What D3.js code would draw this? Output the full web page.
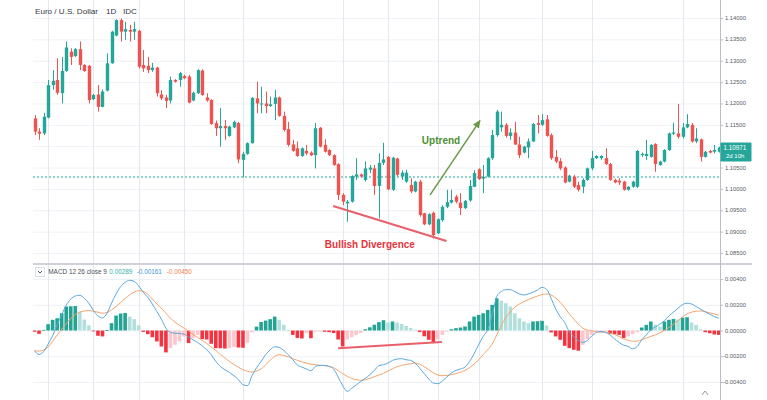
<!DOCTYPE html>
<html><head><meta charset="utf-8">
<script src="https://cdn.jsdelivr.net/npm/d3@7"></script>
<style>html,body{margin:0;padding:0;background:#fff;}svg{display:block;font-family:"Liberation Sans",Arial,sans-serif;}</style>
</head><body><svg id="c" width="767" height="400"></svg>
<script>
// ---------- DATA ----------
const opens=[1.1165,1.1134,1.1130,1.1167,1.1243,1.1255,1.1224,1.1276,1.1321,1.1311,
1.1327,1.1290,1.1288,1.1210,1.1221,1.1192,1.1230,1.1294,1.1359,1.1395,
1.1368,1.1372,1.1368,1.1370,1.1290,1.1288,1.1278,1.1284,1.1221,1.1214,
1.1207,1.1255,1.1255,1.1264,1.1263,1.1207,1.1224,1.1277,1.1214,1.1208,
1.1154,1.1142,1.1147,1.1124,1.1144,1.1154,1.1068,1.1082,1.1107,1.1212,
1.1198,1.1200,1.1194,1.1199,1.1214,1.1171,1.1140,1.1104,1.1095,1.1077,
1.1089,1.1085,1.1079,1.1143,1.1103,1.1091,1.1079,1.1058,1.0986,1.0966,
1.0970,1.1029,1.1034,1.1021,1.1045,1.1048,1.1007,1.1061,1.1075,1.0998,
1.1071,1.1029,1.1017,1.1009,1.0994,1.1017,1.0943,1.0917,1.0944,1.0896,
1.0927,1.0958,1.0968,1.0982,1.0968,1.0955,1.0973,1.1005,1.1046,1.1024,
1.1029,1.1072,1.1126,1.1144,1.1150,1.1124,1.1132,1.1104,1.1085,1.1097,
1.1111,1.1154,1.1150,1.1163,1.1126,1.1075,1.1065,1.1050,1.1017,1.1029,
1.1009,1.1005,1.1021,1.1048,1.1072,1.1072,1.1072,1.1058,1.1021,1.1019,
1.1017,1.0998,1.1005,1.1005,1.1079,1.1077,1.1075,1.1105,1.1056,1.1064,
1.1091,1.1129,1.1130,1.1122,1.1144,1.1150,1.1111,1.1116,1.1075,1.1089,
1.1087,1.1087];
const closes=[1.1134,1.1129,1.1169,1.1243,1.1253,1.1225,1.1276,1.1331,1.1309,1.1327,
1.1290,1.1276,1.1208,1.1220,1.1192,1.1228,1.1294,1.1368,1.1395,1.1368,
1.1374,1.1368,1.1374,1.1286,1.1282,1.1278,1.1284,1.1224,1.1212,1.1206,
1.1255,1.1251,1.1271,1.1259,1.1202,1.1225,1.1278,1.1220,1.1207,1.1152,
1.1142,1.1147,1.1142,1.1146,1.1157,1.1069,1.1082,1.1107,1.1213,1.1200,
1.1200,1.1194,1.1198,1.1214,1.1171,1.1138,1.1103,1.1089,1.1077,1.1095,
1.1083,1.1079,1.1142,1.1099,1.1087,1.1079,1.1056,1.0986,1.0970,1.0970,
1.1030,1.1034,1.1029,1.1048,1.1050,1.1007,1.1061,1.1069,1.0999,1.1073,
1.1033,1.1038,1.1038,1.0994,1.1017,1.0939,1.0917,1.0941,1.0892,1.0929,
1.0958,1.0969,1.0974,1.0970,1.0955,1.0972,1.1007,1.1037,1.1023,1.1028,
1.1072,1.1126,1.1181,1.1150,1.1124,1.1132,1.1104,1.1079,1.1099,1.1111,
1.1152,1.1150,1.1161,1.1124,1.1072,1.1064,1.1048,1.1015,1.1031,1.1005,
1.0998,1.1021,1.1048,1.1072,1.1077,1.1077,1.1058,1.1021,1.1015,1.1015,
1.0998,1.1005,1.1017,1.1089,1.1082,1.1082,1.1103,1.1058,1.1064,1.1091,
1.1130,1.1132,1.1122,1.1144,1.1152,1.1111,1.1118,1.1075,1.1087,1.1085,
1.1091,1.1097];
const highs=[1.1173,1.1142,1.1178,1.1255,1.1278,1.1306,1.1309,1.1345,1.1329,1.1330,
1.1345,1.1292,1.1290,1.1222,1.1243,1.1233,1.1317,1.1370,1.1397,1.1399,
1.1391,1.1384,1.1391,1.1372,1.1325,1.1309,1.1295,1.1286,1.1231,1.1220,
1.1263,1.1257,1.1274,1.1267,1.1267,1.1228,1.1280,1.1280,1.1224,1.1210,
1.1160,1.1189,1.1161,1.1148,1.1160,1.1157,1.1087,1.1109,1.1215,1.1251,
1.1239,1.1228,1.1216,1.1232,1.1216,1.1181,1.1157,1.1115,1.1111,1.1097,
1.1103,1.1088,1.1154,1.1145,1.1116,1.1093,1.1081,1.1060,1.0990,1.0974,
1.1032,1.1072,1.1036,1.1064,1.1056,1.1056,1.1083,1.1108,1.1077,1.1075,
1.1073,1.1043,1.1045,1.1025,1.1019,1.1021,1.0944,1.0943,1.0947,1.0931,
1.0962,1.0998,1.0998,1.0986,1.0990,1.0974,1.1021,1.1044,1.1048,1.1056,
1.1074,1.1138,1.1185,1.1181,1.1154,1.1142,1.1157,1.1122,1.1101,1.1118,
1.1154,1.1173,1.1175,1.1173,1.1130,1.1091,1.1072,1.1053,1.1033,1.1033,
1.1017,1.1025,1.1050,1.1089,1.1079,1.1079,1.1095,1.1061,1.1024,1.1025,
1.1019,1.1007,1.1019,1.1091,1.1085,1.1115,1.1105,1.1107,1.1066,1.1093,
1.1132,1.1155,1.1199,1.1154,1.1175,1.1154,1.1142,1.1118,1.1089,1.1091,
1.1103,1.1099];
const lows=[1.1126,1.1115,1.1126,1.1165,1.1232,1.1220,1.1200,1.1274,1.1290,1.1308,
1.1278,1.1274,1.1200,1.1208,1.1181,1.1191,1.1228,1.1293,1.1357,1.1345,
1.1349,1.1345,1.1349,1.1282,1.1274,1.1271,1.1274,1.1216,1.1208,1.1189,
1.1200,1.1249,1.1239,1.1257,1.1200,1.1205,1.1222,1.1218,1.1204,1.1150,
1.1124,1.1099,1.1115,1.1122,1.1142,1.1060,1.1027,1.1080,1.1106,1.1177,
1.1177,1.1177,1.1192,1.1161,1.1169,1.1134,1.1099,1.1087,1.1075,1.1075,
1.1079,1.1077,1.1048,1.1097,1.1085,1.1077,1.1054,1.0974,1.0962,1.0923,
1.0968,1.1021,1.1027,1.1017,1.1037,1.0986,1.0931,1.1056,1.0997,1.0995,
1.1029,1.1021,1.1014,1.0990,1.0992,1.0935,1.0915,1.0915,1.0884,1.0894,
1.0923,1.0955,1.0966,1.0966,1.0939,1.0953,1.0970,1.1004,1.1021,1.0990,
1.1027,1.1068,1.1122,1.1134,1.1120,1.1115,1.1103,1.1072,1.1083,1.1072,
1.1110,1.1130,1.1147,1.1122,1.1068,1.1060,1.1044,1.1013,1.1015,1.1002,
1.0994,1.0990,1.1019,1.1044,1.1070,1.1068,1.1056,1.1019,1.1013,1.1009,
1.0996,1.0996,1.1003,1.1002,1.1075,1.1068,1.1073,1.1040,1.1054,1.1062,
1.1089,1.1126,1.1118,1.1118,1.1142,1.1108,1.1107,1.1064,1.1073,1.1083,
1.1083,1.1085];
const macdHist=[-0.0001,-0.00026,0.00005,0.00049,0.00083,0.00095,0.00134,0.00186,0.00188,0.0019,
0.00147,0.00085,0.0004,-0.00002,-0.00041,-0.00046,0.00003,0.00057,0.00116,0.00132,
0.00136,0.00108,0.00088,0.0004,-0.0001,-0.00028,-0.00052,-0.00085,-0.00124,-0.0017,
-0.00137,-0.00111,-0.00085,-0.00046,-0.00098,-0.00059,-0.00034,-0.00067,-0.0007,-0.00103,
-0.00137,-0.00138,-0.0014,-0.00136,-0.00128,-0.00132,-0.00134,-0.00095,-0.00015,0.0003,
0.00066,0.00077,0.00088,0.00108,0.00083,0.00044,0.00002,-0.00034,-0.00058,-0.00062,
-0.0002,-0.0006,-0.00008,-0.00005,-0.0001,-0.00013,-0.0002,-0.0007,-0.00124,-0.0007,
-0.00052,-0.00034,-0.0002,0.0001,0.00025,0.00045,0.00065,0.0008,0.00062,0.0007,
0.00062,0.0005,0.00035,0.0002,0.00005,-0.00012,-0.00045,-0.00072,-0.00092,-0.0007,
-0.00034,-0.00008,0.0001,0.00018,0.00023,0.00031,0.0007,0.00108,0.00121,0.00134,
0.0016,0.00199,0.0025,0.00232,0.00212,0.00186,0.00134,0.00095,0.0007,0.00057,
0.0007,0.00072,0.00075,0.00039,-0.00015,-0.00046,-0.00072,-0.00119,-0.00137,-0.0015,
-0.00157,-0.00111,-0.00067,-0.00034,-0.00015,-0.00008,-0.00005,-0.00026,-0.00028,-0.00034,
-0.00059,-0.00046,-0.00028,-0.00013,0.00023,0.00044,0.0007,0.00044,0.00031,0.0007,
0.00083,0.0009,0.00085,0.001,0.00103,0.00062,0.00044,0.0001,-0.00013,-0.00021,
-0.00031,-0.00034];
const macdLine=[-0.00157,-0.00186,-0.00165,-0.00106,-0.00041,0.00044,0.00124,0.00196,0.00243,0.00268,
0.00273,0.0025,0.00212,0.00155,0.00114,0.00098,0.00134,0.00212,0.00284,0.00341,
0.00374,0.0039,0.00382,0.00346,0.00297,0.00258,0.00206,0.00147,0.00088,0.00018,
-0.00015,-0.00021,-0.00023,-0.00028,-0.00052,-0.00072,-0.00093,-0.00119,-0.0015,-0.00188,
-0.0024,-0.00279,-0.00304,-0.00325,-0.00351,-0.00382,-0.00421,-0.00428,-0.0035,-0.0029,
-0.0024,-0.00188,-0.0015,-0.00126,-0.00132,-0.00155,-0.00188,-0.00227,-0.00268,-0.00284,
-0.00299,-0.00312,-0.00279,-0.00271,-0.00271,-0.00279,-0.00299,-0.00361,-0.00428,-0.00472,
-0.00449,-0.00423,-0.00395,-0.00372,-0.00343,-0.0031,-0.00273,-0.00266,-0.00253,-0.00232,
-0.00222,-0.00219,-0.00227,-0.00232,-0.00253,-0.00292,-0.00335,-0.00377,-0.00408,-0.00413,
-0.00392,-0.00361,-0.0033,-0.0031,-0.00299,-0.00284,-0.0024,-0.00181,-0.00111,-0.00046,
0.00005,0.0012,0.00263,0.00302,0.00317,0.00317,0.00302,0.00284,0.00276,0.00284,
0.00297,0.00315,0.00335,0.0032,0.0025,0.00168,0.00108,0.00062,-0.00008,-0.00046,
-0.00077,-0.00093,-0.00077,-0.00041,-0.00015,-0.00008,-0.00015,-0.00034,-0.00065,-0.00093,
-0.00114,-0.00124,-0.00142,-0.00124,-0.00072,-0.00034,0.00005,0.00028,0.00049,0.00077,
0.00114,0.00142,0.00173,0.00201,0.00212,0.00206,0.00186,0.00165,0.00144,0.00126,
0.00108,0.00095];
const signalLine=[-0.00157,-0.0016,-0.00152,-0.00129,-0.00085,-0.00034,0.0001,0.00052,0.00093,0.00124,
0.00142,0.00152,0.00155,0.0015,0.00142,0.00134,0.00139,0.0016,0.00186,0.00217,
0.0025,0.00276,0.00299,0.0031,0.00304,0.00281,0.00245,0.00206,0.00173,0.00134,
0.00095,0.00065,0.00041,0.00018,-0.00005,-0.00031,-0.00054,-0.00077,-0.00101,-0.00129,
-0.00155,-0.00186,-0.00212,-0.0024,-0.00263,-0.00286,-0.00304,-0.00317,-0.00323,-0.00315,
-0.00299,-0.00266,-0.00232,-0.00201,-0.00188,-0.00194,-0.00204,-0.00219,-0.00232,-0.00243,
-0.00253,-0.00261,-0.00266,-0.00271,-0.00273,-0.00279,-0.00289,-0.0031,-0.00335,-0.00356,
-0.00372,-0.00382,-0.00387,-0.00382,-0.00372,-0.00359,-0.00346,-0.00333,-0.00315,-0.00297,
-0.00281,-0.00271,-0.00263,-0.00258,-0.00253,-0.00263,-0.00281,-0.00304,-0.00328,-0.00346,
-0.00351,-0.00349,-0.00343,-0.00335,-0.00325,-0.0031,-0.00289,-0.00261,-0.00227,-0.00188,
-0.0015,-0.00105,-0.00034,0.00036,0.00101,0.00144,0.00181,0.00206,0.00224,0.0024,
0.00255,0.00268,0.00279,0.00284,0.00276,0.00253,0.00219,0.00178,0.00129,0.00088,
0.00049,0.00018,0.00003,-0.00003,-0.00008,-0.00013,-0.00013,-0.00021,-0.00031,-0.00046,
-0.00065,-0.00075,-0.00083,-0.00083,-0.00072,-0.00059,-0.00046,-0.00034,-0.00018,0,
0.00023,0.00049,0.00077,0.00106,0.00129,0.00142,0.0015,0.00152,0.00147,0.00137,
0.00129,0.00119];
const priceGridTicks=[1.14,1.135,1.13,1.125,1.12,1.115,1.11,1.105,1.10,1.095,1.09,1.085];
const macdTicks=[0.004,0.002,0,-0.002,-0.004];
const timeGridIdx=[3,13,23,33,46,68,78,89,98,112,123,143];
const titleParts=["Euro / U.S. Dollar","1D","IDC"];
const macdLegend={name:"MACD 12 26 close 9",values:["0.00289","-0.00161","-0.00450"]};
const lastPriceLabel="1.10971", countdownLabel="2d 10h";
const priceLineValue=1.10279;
// annotations in data coordinates [candle index, value]
const priceDivergence=[[65.9,1.0960],[90.9,1.0878]];
const uptrendArrow=[[87.3,1.0986],[98.3,1.1160]];
const uptrendText={label:"Uptrend",at:[89.7,1.1114]};
const divergenceText={label:"Bullish Divergence",at:[74.0,1.0870]};
const macdDivergence=[[67.0,-0.00138],[89.9,-0.00089]];

// ---------- LAYOUT ----------
const W=767,H=400, L=33, R=720;
const pTop=0,pBot=263, mTop=265, mBot=400;
const svg=d3.select("#c");
const n=closes.length;
const x=d3.scaleLinear().domain([0,n-1]).range([34.5,718.8]);
const y=d3.scaleLinear().domain([1.085,1.14]).range([253,18]);
const ym=d3.scaleLinear().domain([-0.004,0.004]).range([382,279]);
const UP="#26a69a", DOWN="#ef5350";

const defs=svg.append("defs");
defs.append("clipPath").attr("id","cp").append("rect").attr("x",L).attr("y",pTop).attr("width",R-L).attr("height",pBot-pTop);
defs.append("clipPath").attr("id","cm").append("rect").attr("x",L).attr("y",mTop).attr("width",R-L).attr("height",mBot-mTop);
defs.append("marker").attr("id","arr").attr("viewBox","0 0 10 10").attr("refX",8).attr("refY",5)
  .attr("markerWidth",6).attr("markerHeight",6).attr("orient","auto")
  .append("path").attr("d","M0,1L9,5L0,9Z").attr("fill","#6a9a45");

// grids
svg.append("g").selectAll("line").data(priceGridTicks).join("line")
  .attr("x1",L).attr("x2",R).attr("y1",d=>y(d)+0.5).attr("y2",d=>y(d)+0.5)
  .attr("stroke","#eef1f6").attr("stroke-width",1);
svg.append("g").selectAll("line").data(macdTicks).join("line")
  .attr("x1",L).attr("x2",R).attr("y1",d=>ym(d)+0.5).attr("y2",d=>ym(d)+0.5)
  .attr("stroke","#eef1f6").attr("stroke-width",1);
svg.append("g").selectAll("line").data(timeGridIdx).join("line")
  .attr("x1",d=>Math.round(x(d))+0.5).attr("x2",d=>Math.round(x(d))+0.5).attr("y1",0).attr("y2",H)
  .attr("stroke","#e4e8ef").attr("stroke-width",1);

// price line (dotted)
svg.append("line").attr("x1",L).attr("x2",R).attr("y1",y(priceLineValue)).attr("y2",y(priceLineValue))
  .attr("stroke","#26a69a").attr("stroke-width",1).attr("stroke-dasharray","2,2");

// candles
const cg=svg.append("g").attr("clip-path","url(#cp)");
const idx=d3.range(n);
cg.selectAll("line.w").data(idx).join("line").attr("class","w")
  .attr("x1",i=>Math.round(x(i))+0.5).attr("x2",i=>Math.round(x(i))+0.5)
  .attr("y1",i=>y(highs[i])).attr("y2",i=>y(lows[i]))
  .attr("stroke",i=>closes[i]>=opens[i]?UP:DOWN).attr("stroke-width",1);
const bw=3.4;
cg.selectAll("rect.b").data(idx).join("rect").attr("class","b")
  .attr("x",i=>Math.round(x(i))+0.5-bw/2).attr("width",bw)
  .attr("y",i=>y(Math.max(opens[i],closes[i])))
  .attr("height",i=>Math.max(1,Math.abs(y(opens[i])-y(closes[i]))))
  .attr("fill",i=>closes[i]>=opens[i]?UP:DOWN);

// price annotations
const ag=svg.append("g").attr("clip-path","url(#cp)");
ag.append("line").attr("x1",x(priceDivergence[0][0])).attr("y1",y(priceDivergence[0][1]))
  .attr("x2",x(priceDivergence[1][0])).attr("y2",y(priceDivergence[1][1]))
  .attr("stroke","#e8606b").attr("stroke-width",2);
ag.append("line").attr("x1",x(uptrendArrow[0][0])).attr("y1",y(uptrendArrow[0][1]))
  .attr("x2",x(uptrendArrow[1][0])).attr("y2",y(uptrendArrow[1][1]))
  .attr("stroke","#6a9a45").attr("stroke-width",1.5).attr("marker-end","url(#arr)");
svg.append("text").attr("x",x(uptrendText.at[0])).attr("y",y(uptrendText.at[1])).attr("dy","0.36em")
  .attr("text-anchor","middle").attr("font-size",10).attr("font-weight","bold").attr("fill","#4d8f35").text(uptrendText.label);
svg.append("text").attr("x",x(divergenceText.at[0])).attr("y",y(divergenceText.at[1])).attr("dy","0.36em")
  .attr("text-anchor","middle").attr("font-size",10).attr("font-weight","bold").attr("fill","#e8323c").text(divergenceText.label);

// MACD histogram
function histColor(i){
  const v=macdHist[i], p=i>0?macdHist[i-1]:0;
  if(v>=0) return v>=p?"#22a393":"#b2dfdb";
  return v<p?"#f5323f":"#fcc6cd";
}
const mg=svg.append("g").attr("clip-path","url(#cm)");
const hw=3.6;
mg.selectAll("rect.h").data(idx).join("rect").attr("class","h")
  .attr("x",i=>x(i)-hw/2).attr("width",hw)
  .attr("y",i=>Math.min(ym(0),ym(macdHist[i])))
  .attr("height",i=>Math.max(0.8,Math.abs(ym(macdHist[i])-ym(0))))
  .attr("fill",histColor);
const lineGen=arr=>d3.line().x((d,i)=>x(i)).y(d=>ym(d)).curve(d3.curveMonotoneX)(arr);
mg.append("path").attr("d",lineGen(signalLine)).attr("fill","none").attr("stroke","#f4a46c").attr("stroke-width",1);
mg.append("path").attr("d",lineGen(macdLine)).attr("fill","none").attr("stroke","#5aa9dc").attr("stroke-width",1);
mg.append("line").attr("x1",x(macdDivergence[0][0])).attr("y1",ym(macdDivergence[0][1]))
  .attr("x2",x(macdDivergence[1][0])).attr("y2",ym(macdDivergence[1][1]))
  .attr("stroke","#e8606b").attr("stroke-width",2);

// pane separator and axis line
svg.append("line").attr("x1",L).attr("x2",752).attr("y1",264).attr("y2",264).attr("stroke","#cfd2d9").attr("stroke-width",2);
svg.append("line").attr("x1",R+0.5).attr("x2",R+0.5).attr("y1",0).attr("y2",H).attr("stroke","#b9bdc6").attr("stroke-width",1);

// price axis labels
const lastY=y(closes[n-1]);
const fmt5=d3.format(".5f");
const pl=svg.append("g");
priceGridTicks.forEach(t=>{
  pl.append("line").attr("x1",R).attr("x2",R+3).attr("y1",y(t)+0.5).attr("y2",y(t)+0.5).attr("stroke","#b9bdc6");
  if(Math.abs(y(t)-lastY)<11) return;
  pl.append("text").attr("x",725).attr("y",y(t)).attr("dy","0.35em").attr("font-size",5.8).attr("fill","#555b66").text(fmt5(t));
});
macdTicks.forEach(t=>{
  pl.append("line").attr("x1",R).attr("x2",R+3).attr("y1",ym(t)+0.5).attr("y2",ym(t)+0.5).attr("stroke","#b9bdc6");
  pl.append("text").attr("x",t<0?723:725).attr("y",ym(t)).attr("dy","0.35em").attr("font-size",5.8).attr("fill","#555b66").text(fmt5(t).replace("\u2212","-"));
});

// last price box
svg.append("rect").attr("x",R+0.5).attr("y",lastY-5).attr("width",31).attr("height",19).attr("rx",1).attr("fill","#26a69a");
svg.append("text").attr("x",723.5).attr("y",lastY).attr("dy","0.35em").attr("font-size",6.3).attr("fill","#fff").text(lastPriceLabel);
svg.append("text").attr("x",726).attr("y",lastY+8.5).attr("dy","0.35em").attr("font-size",6).attr("fill","#fff").text(countdownLabel);

// title
const tg=svg.append("g").attr("font-size",8.1).attr("fill","#363a43");
tg.append("text").attr("x",35).attr("y",13.5).text(titleParts[0]);
tg.append("text").attr("x",106).attr("y",13.5).text(titleParts[1]);
tg.append("text").attr("x",123).attr("y",13.5).text(titleParts[2]);

// MACD legend
svg.append("rect").attr("x",35.5).attr("y",267.5).attr("width",9).attr("height",9).attr("fill","#fff").attr("stroke","#dfe2e8");
svg.append("path").attr("d","M38,271 L40,273 L42,271").attr("fill","none").attr("stroke","#444").attr("stroke-width",0.9);
const lg=svg.append("g").attr("font-size",6.4);
lg.append("text").attr("x",48.3).attr("y",274.2).attr("fill","#4a4f5a").text(macdLegend.name);
lg.append("text").attr("x",109.3).attr("y",274.2).attr("fill","#35b0a6").text(macdLegend.values[0]);
lg.append("text").attr("x",136.7).attr("y",274.2).attr("fill","#3f95d6").text(macdLegend.values[1]);
lg.append("text").attr("x",166.7).attr("y",274.2).attr("fill","#f0834a").text(macdLegend.values[2]);

// small scale icon bottom-right
svg.append("path").attr("d","M702,395 L705,391 L708,395").attr("fill","none").attr("stroke","#8a8f99").attr("stroke-width",0.9);
</script></body></html>
